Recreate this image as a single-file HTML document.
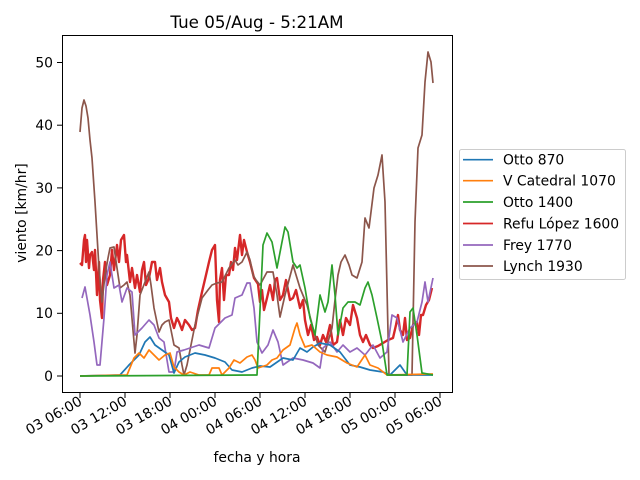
<!DOCTYPE html>
<html><head><meta charset="utf-8"><style>body{margin:0;background:#fff}svg{display:block}text{font-family:"DejaVu Sans","Liberation Sans",sans-serif;fill:#000}</style></head>
<body>
<svg width="640" height="480" viewBox="0 0 640 480" xmlns="http://www.w3.org/2000/svg">
<rect width="640" height="480" fill="#fff"/>
<text x="257" y="28" font-size="16.7" text-anchor="middle">Tue 05/Aug - 5:21AM</text>
<g fill="none" stroke-width="1.7" stroke-linejoin="round">
<polyline stroke="#d62728" stroke-width="2.4" points="80,263 82,265 84,240 85,235 86,262 87,240 89,268 90,255 92,252 94,270 95,250 97,295 99,262 100,300 102,318 103,280 105,262 107,285 110,275 112,250 114,270 117,245 119,262 121,240 124,235 126,262 127,255 130,282 132,268 135,288 137,275 140,292 142,270 144,262 146,285 149,278 152,262 155,262 157,280 160,268 162,282 165,295 169,302 171,318 174,328 177,318 179,322 182,330 185,320 189,325 192,330 195,328 198,310 202,292 206,275 209,262 212,250 215,245 217,300 219,322 220,280 222,268 224,300 226,275 229,275 231,262 233,270 235,248 237,260 240,235 242,255 244,240 247,252 250,262 252,270 254,278 258,284 260,302 262,290 264,310 267,298 270,285 273,300 275,280 277,278 280,300 283,295 286,280 290,300 293,298 296,290 300,308 303,300 305,320 308,335 311,325 314,340 317,337 320,345 323,335 326,342 330,325 333,345 337,342 340,320 343,335 346,318 350,325 353,305 357,318 360,335 363,342 366,335 370,345 373,348 378,346 383,343 388,340 393,338 396,325 398,315 400,330 403,335 405,318 407,340 410,338 413,325 417,322 419,335 421,315 423,315 426,305 429,300 432,288"/>
<polyline stroke="#8c564b" points="80,132 82,108 84,100 86,106 88,118 90,140 92,158 95,202 97,235 99,268 102,302 105,275 108,258 110,248 114,247 117,268 120,288 124,285 127,282 130,295 133,330 135,353 137,335 140,295 145,282 149,272 151,285 154,308 159,332 162,325 165,322 169,320 172,335 174,345 179,348 182,365 184,375 187,365 189,355 195,325 202,298 208,290 212,285 217,283 222,282 229,268 235,260 238,265 242,262 247,252 250,260 253,275 256,280 260,285 267,272 273,272 277,295 280,317 285,295 293,265 300,288 307,305 313,328 318,345 325,352 332,328 335,300 338,275 341,262 345,255 349,265 352,275 357,278 362,262 365,218 369,228 374,188 378,175 382,155 385,202 389,375 412,375 415,222 418,148 422,135 425,82 428,52 431,62 433,83"/>
<polyline stroke="#9467bd" points="82,298 85,287 90,315 94,342 97,365 100,365 104,318 107,275 110,262 114,288 119,285 122,302 127,288 132,292 135,335 142,328 149,320 154,325 159,338 164,342 169,372 174,372 177,352 184,350 190,348 199,345 209,348 215,328 225,318 232,315 235,298 242,295 247,283 250,283 254,308 257,342 262,353 268,345 273,330 278,342 283,365 293,358 303,360 313,363 320,368 323,348 330,342 337,352 343,345 350,352 357,348 365,355 373,345 380,358 387,352 392,315 397,318 403,342 410,328 417,322 422,302 425,282 428,302 433,278"/>
<polyline stroke="#1f77b4" points="80,376 120,375 129,365 139,355 145,342 150,337 155,345 162,350 169,355 174,373 179,362 185,357 195,353 205,355 215,358 225,362 232,370 242,372 252,368 260,366 270,367 283,358 293,360 300,348 307,352 313,347 320,343 330,345 340,352 350,365 360,367 370,370 383,372 390,375 400,365 407,375 433,375"/>
<polyline stroke="#ff7f0e" points="80,376 127,375 134,358 139,353 144,358 149,350 154,355 159,360 165,355 170,353 174,367 179,372 184,375 190,372 199,375 209,375 212,368 219,368 222,375 229,368 234,360 240,363 247,357 252,355 255,360 258,368 267,365 272,360 277,358 283,350 290,345 295,328 297,323 300,335 305,347 312,345 320,352 327,355 337,357 347,363 357,367 365,355 370,365 378,368 387,375 433,374"/>
<polyline stroke="#2ca02c" points="80,376 257,375 263,245 267,233 272,242 277,268 282,242 285,227 288,232 293,262 297,268 300,265 305,288 310,318 315,335 320,295 325,312 328,302 332,265 335,295 338,335 343,308 348,302 355,302 360,305 365,288 368,282 372,295 377,318 382,342 387,375 407,375 410,312 413,308 417,335 422,373 433,375"/>
</g>
<rect x="62.5" y="35.5" width="390" height="357" fill="none" stroke="#000" stroke-width="1"/>
<g stroke="#000" stroke-width="1">
<line x1="57" x2="62" y1="376" y2="376"/><line x1="57" x2="62" y1="313.3" y2="313.3"/><line x1="57" x2="62" y1="250.6" y2="250.6"/><line x1="57" x2="62" y1="187.9" y2="187.9"/><line x1="57" x2="62" y1="125.2" y2="125.2"/><line x1="57" x2="62" y1="62.5" y2="62.5"/>
<line x1="80" x2="80" y1="393" y2="398"/><line x1="125" x2="125" y1="393" y2="398"/><line x1="170" x2="170" y1="393" y2="398"/><line x1="215" x2="215" y1="393" y2="398"/><line x1="260" x2="260" y1="393" y2="398"/><line x1="305" x2="305" y1="393" y2="398"/><line x1="350" x2="350" y1="393" y2="398"/><line x1="395" x2="395" y1="393" y2="398"/><line x1="440" x2="440" y1="393" y2="398"/>
</g>
<g font-size="13.9" text-anchor="end">
<text x="53" y="381">0</text><text x="53" y="318">10</text><text x="53" y="255.5">20</text><text x="53" y="193">30</text><text x="53" y="130">40</text><text x="53" y="67.5">50</text>
</g>
<g font-size="13.9" text-anchor="end">
<text transform="translate(83,404) rotate(-30)">03 06:00</text>
<text transform="translate(128,404) rotate(-30)">03 12:00</text>
<text transform="translate(173,404) rotate(-30)">03 18:00</text>
<text transform="translate(218,404) rotate(-30)">04 00:00</text>
<text transform="translate(263,404) rotate(-30)">04 06:00</text>
<text transform="translate(308,404) rotate(-30)">04 12:00</text>
<text transform="translate(353,404) rotate(-30)">04 18:00</text>
<text transform="translate(398,404) rotate(-30)">05 00:00</text>
<text transform="translate(443,404) rotate(-30)">05 06:00</text>
</g>
<text x="257" y="462" font-size="13.9" text-anchor="middle">fecha y hora</text>
<text transform="translate(26,213) rotate(-90)" font-size="13.9" text-anchor="middle">viento [km/hr]</text>
<rect x="459.5" y="149.5" width="166" height="130" rx="2" fill="#fff" stroke="#ccc"/>
<g stroke-width="1.7">
<line x1="463" x2="493" y1="159.7" y2="159.7" stroke="#1f77b4"/>
<line x1="463" x2="493" y1="180.7" y2="180.7" stroke="#ff7f0e"/>
<line x1="463" x2="493" y1="202" y2="202" stroke="#2ca02c"/>
<line x1="463" x2="493" y1="223.5" y2="223.5" stroke="#d62728"/>
<line x1="463" x2="493" y1="245" y2="245" stroke="#9467bd"/>
<line x1="463" x2="493" y1="266" y2="266" stroke="#8c564b"/>
</g>
<g font-size="13.9">
<text x="503" y="164.7">Otto 870</text>
<text x="503" y="185.7">V Catedral 1070</text>
<text x="503" y="207">Otto 1400</text>
<text x="503" y="228.5">Refu López 1600</text>
<text x="503" y="250">Frey 1770</text>
<text x="503" y="271">Lynch 1930</text>
</g>
</svg>
</body></html>
